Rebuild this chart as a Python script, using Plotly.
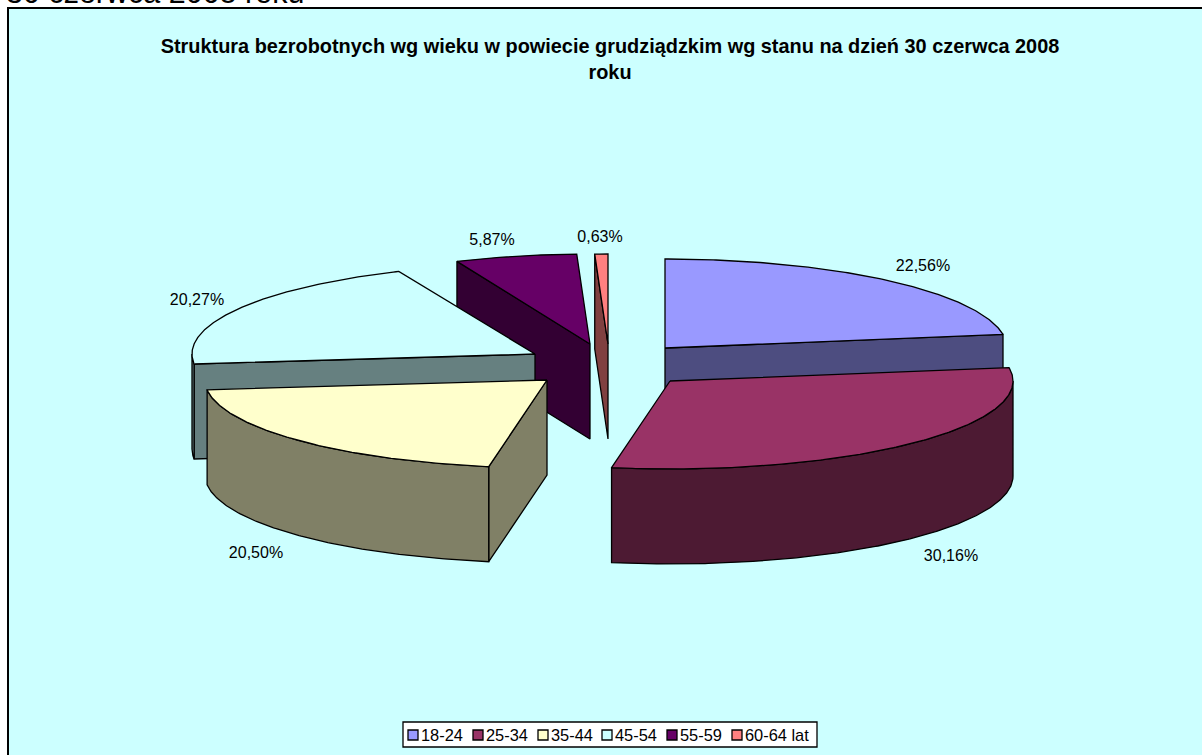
import numpy as np
import plotly.graph_objects as go

categories = ["18-24", "25-34", "35-44", "45-54", "55-59", "60-64 lat"]
shares = [22.56, 30.16, 20.50, 20.27, 5.87, 0.63]
top_colors = ["#9999FF", "#993366", "#FFFFCC", "#CCFFFF", "#660066", "#FF8080"]
wall_colors = ["#4D4D80", "#4D1A33", "#808066", "#668080", "#330033", "#804040"]
title_lines = ["Struktura bezrobotnych wg wieku w powiecie grudziądzkim wg stanu na dzień 30 czerwca 2008", "roku"]
heading = "30 czerwca 2008 roku"

# Exploded-slice placement on the page (pixel-scaled axes)
apex_x = [665, 670, 547, 535, 590, 608]
apex_y = [348, 381, 380, 354, 344, 344]
radius_x = [342, 343, 342, 343, 335, 335]
radius_y = [89, 88, 88, 90, 90, 90]
DEPTH = 95
label_x = [923, 951, 256, 197, 492, 600]
label_y = [266.5, 556.5, 553.5, 301, 241, 238]
draw_order = [5, 4, 3, 2, 0, 1]
FONT = "Liberation Sans, Arial, sans-serif"
LABEL_SIZE = 16

fig = go.Figure()


def arc(i, a0, a1):
    t = np.radians(np.linspace(a0, a1, max(int(abs(a1 - a0)) * 2, 2)))
    return apex_x[i] + radius_x[i] * np.sin(t), apex_y[i] - radius_y[i] * np.cos(t)


def poly(x, y, color):
    fig.add_trace(go.Scatter(
        x=list(x), y=list(y), mode="lines", fill="toself", fillcolor=color,
        line=dict(color="black", width=1.3), showlegend=False, hoverinfo="skip"))


edges = np.concatenate([[0], np.cumsum(shares)]) / sum(shares) * 360
for i in draw_order:
    a0, a1 = edges[i], edges[i + 1]
    ax, ay = apex_x[i], apex_y[i]
    # radial walls facing the viewer
    for ang, visible in ((a0, a0 > 180), (a1, a1 < 180)):
        if visible:
            ex, ey = arc(i, ang, ang)
            poly([ax, ex[0], ex[0], ax, ax],
                 [ay, ey[0], ey[0] + DEPTH, ay + DEPTH, ay], wall_colors[i])
    # curved outer wall
    r0, r1 = max(a0, 90), min(a1, 270)
    if r1 > r0:
        rx, ry = arc(i, r0, r1)
        poly(np.r_[rx, rx[::-1], rx[0]], np.r_[ry, ry[::-1] + DEPTH, ry[0]], wall_colors[i])
    # top face
    tx, ty = arc(i, a0, a1)
    poly(np.r_[ax, tx, ax], np.r_[ay, ty, ay], top_colors[i])

# value labels
fig.add_trace(go.Scatter(
    x=label_x, y=label_y, mode="text",
    text=[f"{v:.2f}".replace(".", ",") + "%" for v in shares],
    textposition="middle center", textfont=dict(family=FONT, size=LABEL_SIZE, color="black"),
    showlegend=False, hoverinfo="skip"))

# legend box
swatch_x = [413, 478, 543, 607, 672, 737]
fig.add_trace(go.Scatter(
    x=swatch_x, y=[735] * 6, mode="markers",
    marker=dict(symbol="square", size=10, color=top_colors, line=dict(color="black", width=1.3)),
    showlegend=False, hoverinfo="skip"))
fig.add_trace(go.Scatter(
    x=[v + 8 for v in swatch_x], y=[736.5] * 6, mode="text",
    text=categories, textposition="middle right",
    textfont=dict(family=FONT, size=16.4, color="black"),
    showlegend=False, hoverinfo="skip"))

# page text running above the chart, cut by the top edge
fig.add_trace(go.Scatter(
    x=[6], y=[11], mode="text", text=[heading], textposition="top right",
    textfont=dict(family=FONT, size=30.5, color="black"), cliponaxis=False,
    showlegend=False, hoverinfo="skip"))

fig.update_layout(
    width=1202, height=755, autosize=False,
    margin=dict(l=0, r=0, t=0, b=0),
    paper_bgcolor="white", plot_bgcolor="rgba(0,0,0,0)",
    showlegend=False,
    title=dict(text="<br>".join(title_lines), x=610 / 1202, xanchor="center", y=1 - 53 / 755, yanchor="top",
               font=dict(family=FONT, size=19.9, color="black", weight="bold")),
    xaxis=dict(range=[0, 1202], visible=False, fixedrange=True),
    yaxis=dict(range=[755, 0], visible=False, fixedrange=True),
    shapes=[
        dict(type="rect", x0=8, y0=8, x1=1230, y1=780, fillcolor="#CCFFFF",
             line=dict(color="black", width=2), layer="below"),
        dict(type="rect", x0=403, y0=722, x1=817, y1=747, fillcolor="white",
             line=dict(color="black", width=1.3), layer="below"),
    ],
)
fig.write_html("out.html", post_script="document.body.style.margin='0';",
               config=dict(displayModeBar=False))
